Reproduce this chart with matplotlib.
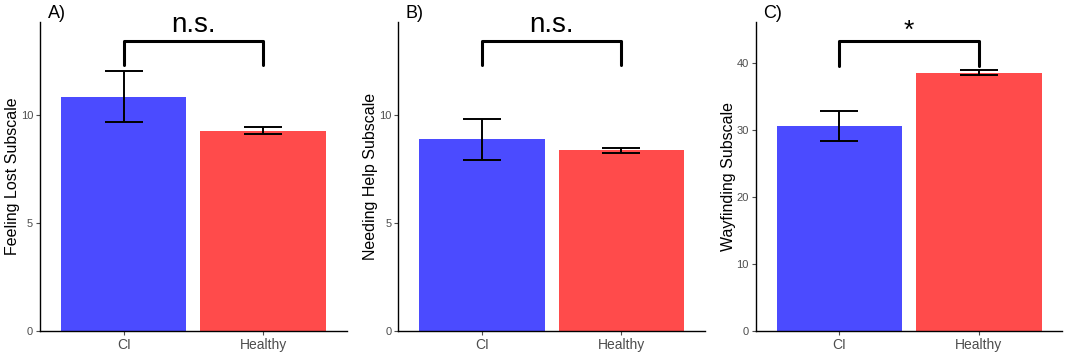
import numpy as np
import matplotlib.pyplot as plt

plt.rcParams['font.family'] = ['Liberation Sans', 'DejaVu Sans']

# data
groups = ["CI", "Healthy"]
feeling_lost = [10.85, 9.27]
feeling_lost_se = [1.19, 0.17]
needing_help = [8.87, 8.36]
needing_help_se = [0.95, 0.13]
wayfinding = [30.6, 38.5]
wayfinding_se = [2.2, 0.38]

panel_tags = ["A)", "B)", "C)"]
ylabels = ["Feeling Lost Subscale", "Needing Help Subscale", "Wayfinding Subscale"]
sig_text = ["n.s.", "n.s.", "*"]
# bracket: (leg bottom, bar top) in data units
brackets = [(12.3, 13.4), (12.3, 13.4), (39.5, 43.2)]
ylims = [14.3, 14.3, 46.1]
yticks = [[0, 5, 10], [0, 5, 10], [0, 10, 20, 30, 40]]

bar_colors = ["#4b4bff", "#ff4b4b"]
grey = "#4d4d4d"

fig = plt.figure(figsize=(10.65, 3.53), dpi=100)
lefts = [0.0376, 0.374, 0.7096]
width = 0.288
bottom = 0.0623
height = 0.8754

means = [feeling_lost, needing_help, wayfinding]
ses = [feeling_lost_se, needing_help_se, wayfinding_se]

for i in range(3):
    ax = fig.add_axes([lefts[i], bottom, width, height])
    x = np.arange(1, len(groups) + 1)
    ax.bar(x, means[i], width=0.9, color=bar_colors)
    ax.errorbar(x, means[i], yerr=ses[i], fmt='none', ecolor='black',
                elinewidth=1.4, capsize=13.5, capthick=1.4)
    lo, hi = brackets[i]
    ax.plot([1, 1, 2, 2], [lo, hi, hi, lo], color='black', lw=2.2,
            solid_joinstyle='round', solid_capstyle='round')
    if sig_text[i] == "*":
        ax.text(1.5, hi - ylims[i] * 0.005, sig_text[i], ha='center', va='bottom',
                fontsize=19, color='black')
    else:
        ax.text(1.5, hi + ylims[i] * 0.012, sig_text[i], ha='center', va='bottom',
                fontsize=20, color='black')

    ax.set_xlim(0.4, 2.6)
    ax.set_ylim(0, ylims[i])
    ax.set_xticks(x)
    ax.set_xticklabels(groups, fontsize=10, color=grey)
    ax.set_yticks(yticks[i])
    ax.set_yticklabels([str(t) for t in yticks[i]], fontsize=8, color=grey)
    ax.tick_params(axis='both', length=3, width=0.8, color=grey, pad=2)
    for side in ['top', 'right']:
        ax.spines[side].set_visible(False)
    for side in ['left', 'bottom']:
        ax.spines[side].set_linewidth(1.0)
        ax.spines[side].set_color('black')
    ax.set_ylabel(ylabels[i], fontsize=11.5, color='black', labelpad=0.5)
    ax.text(0.025, 1.0, panel_tags[i], transform=ax.transAxes, fontsize=13,
            ha='left', va='bottom', color='black')

fig.savefig("out.png", dpi=100)
